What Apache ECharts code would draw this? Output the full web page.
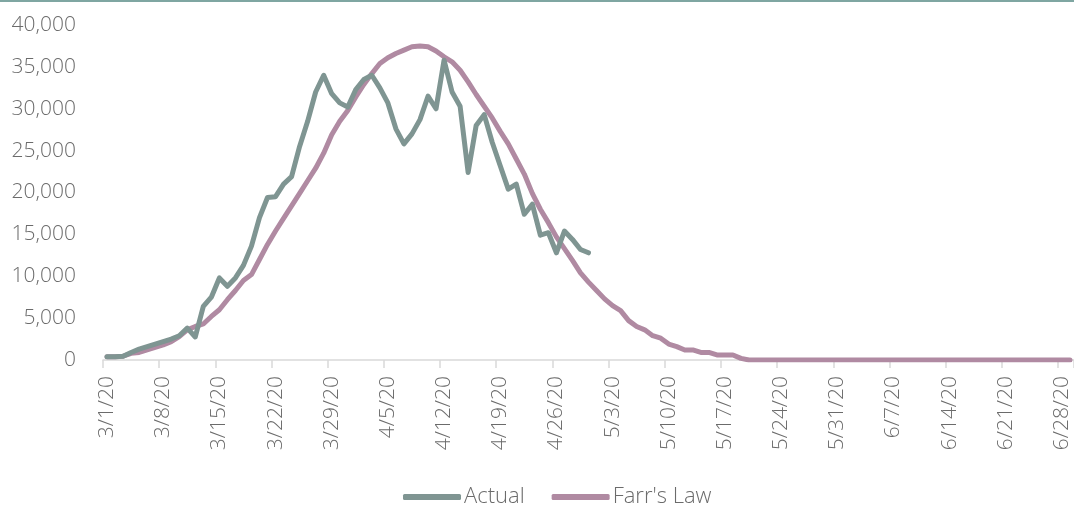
<!DOCTYPE html>
<html>
<head>
<meta charset="utf-8">
<style>
  html, body { margin: 0; padding: 0; background: #fff; }
  #chart { width: 1074px; height: 506px; }
</style>
<script src="https://cdn.jsdelivr.net/npm/echarts@6/dist/echarts.min.js"></script>
</head>
<body>
<div id="chart"></div>
<script>
// Daily dates 3/1/20 .. 6/29/20
const START = new Date(2020, 2, 1);
const DAY_COUNT = 121;
const dates = [];
for (let i = 0; i < DAY_COUNT; i++) {
  const d = new Date(START.getTime() + i * 86400000);
  dates.push((d.getMonth() + 1) + '/' + d.getDate() + '/20');
}

// Reported daily new cases, 3/1/20 .. 4/30/20
const actual = [
  400, 400, 450, 900, 1300, 1600, 1900, 2200, 2500, 2900,
  3800, 2750, 6400, 7500, 9800, 8800, 9800, 11300, 13600, 17000,
  19400, 19500, 21000, 21900, 25500, 28500, 32000, 34000, 31800, 30700,
  30200, 32300, 33500, 34000, 32500, 30700, 27600, 25800, 27000, 28700,
  31500, 30000, 35800, 32000, 30300, 22400, 28000, 29300, 26000, 23200,
  20400, 21000, 17400, 18600, 14900, 15200, 12800, 15400, 14400, 13200,
  12800
];

// Farr's Law projection, 3/1/20 .. 6/29/20
const farrsLaw = [
  400, 400, 450, 800, 900, 1200, 1500, 1800, 2200, 2800,
  3600, 4000, 4300, 5200, 6000, 7200, 8300, 9500, 10200, 12000,
  13800, 15400, 16900, 18400, 19900, 21400, 22900, 24700, 26900, 28500,
  29800, 31400, 32900, 34200, 35400, 36100, 36600, 37000, 37400, 37500,
  37400, 36900, 36200, 35600, 34600, 33200, 31700, 30300, 28900, 27300,
  25800, 24000, 22200, 19900, 18000, 16400, 14700, 13300, 11900, 10400,
  9300, 8300, 7300, 6500, 5900, 4700, 4000, 3600, 2900, 2600,
  1900, 1600, 1200, 1200, 900, 900, 600, 600, 600, 200,
  0, 0, 0, 0, 0, 0, 0, 0, 0, 0,
  0, 0, 0, 0, 0, 0, 0, 0, 0, 0,
  0, 0, 0, 0, 0, 0, 0, 0, 0, 0,
  0, 0, 0, 0, 0, 0, 0, 0, 0, 0,
  0
];

const Y_MIN = 0, Y_MAX = 40000, Y_STEP = 5000;

const FONT = '"Open Sans", "Noto Sans", sans-serif';
const TEXT_COLOR = '#6b6b6b';
const ACTUAL_COLOR = '#7f9592';
const FARR_COLOR = '#b08aa2';

const chart = echarts.init(document.getElementById('chart'), null, { renderer: 'canvas' });

chart.setOption({
  animation: false,
  backgroundColor: '#ffffff',
  textStyle: { fontFamily: FONT },
  graphic: [{
    type: 'rect',
    shape: { x: 0, y: 0, width: 1074, height: 2 },
    style: { fill: '#7fa6a2' },
    silent: true
  }],
  grid: { left: 103, right: 0, top: 25, bottom: 146, containLabel: false },
  legend: {
    top: 481,
    left: 398,
    itemWidth: 58,
    itemHeight: 6,
    itemGap: 27,
    icon: 'roundRect',
    textStyle: { fontFamily: FONT, fontSize: 22, fontWeight: 300, color: TEXT_COLOR, padding: [0, 0, 0, -2] },
    data: ['Actual', "Farr's Law"]
  },
  xAxis: {
    type: 'category',
    data: dates,
    boundaryGap: true,
    axisLine: { show: true, lineStyle: { color: '#d9d9d9', width: 1.5 } },
    axisTick: { show: true, interval: 6, length: 8, lineStyle: { color: '#d9d9d9', width: 1.5 } },
    axisLabel: {
      interval: 6,
      rotate: 90,
      margin: 16,
      fontFamily: FONT,
      fontSize: 21,
      fontWeight: 300,
      color: TEXT_COLOR
    },
    splitLine: { show: false }
  },
  yAxis: {
    type: 'value',
    min: Y_MIN,
    max: Y_MAX,
    interval: Y_STEP,
    axisLine: { show: false },
    axisTick: { show: false },
    splitLine: { show: false },
    axisLabel: {
      margin: 27,
      fontFamily: FONT,
      fontSize: 21,
      fontWeight: 300,
      color: TEXT_COLOR,
      formatter: v => v.toLocaleString('en-US')
    }
  },
  series: [
    {
      name: 'Actual',
      type: 'line',
      data: actual,
      showSymbol: false,
      symbol: 'none',
      color: ACTUAL_COLOR,
      lineStyle: { width: 5, color: ACTUAL_COLOR, cap: 'round', join: 'round' },
      z: 3
    },
    {
      name: "Farr's Law",
      type: 'line',
      data: farrsLaw,
      showSymbol: false,
      symbol: 'none',
      color: FARR_COLOR,
      lineStyle: { width: 5, color: FARR_COLOR, cap: 'round', join: 'round' },
      z: 2
    }
  ]
});
</script>
</body>
</html>
